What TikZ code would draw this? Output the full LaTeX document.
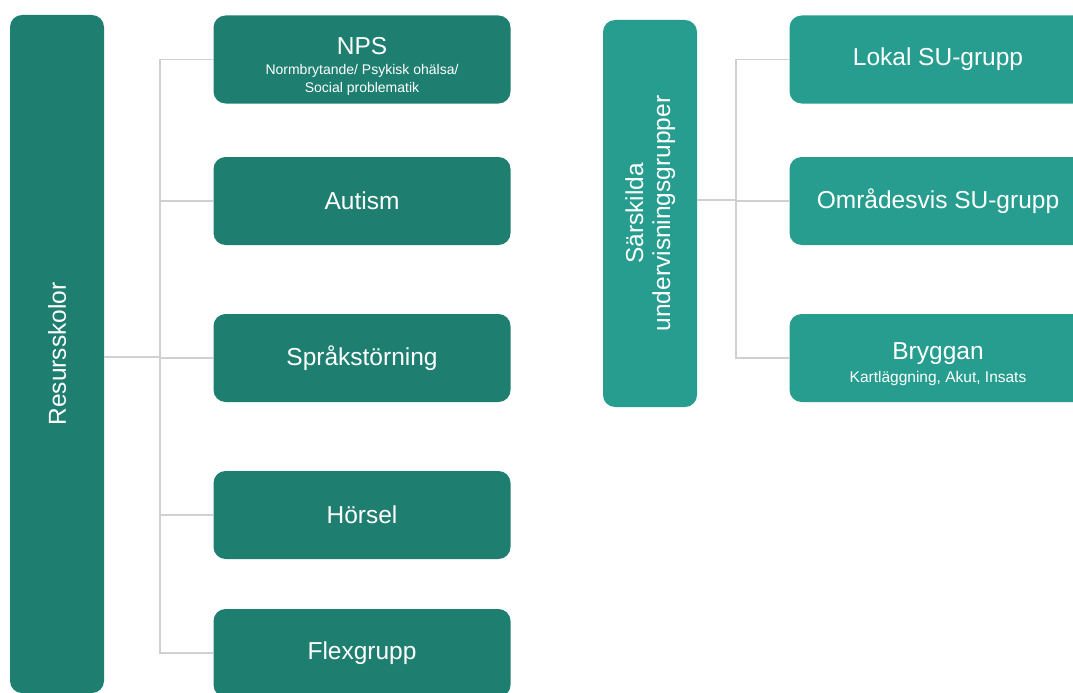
\documentclass[tikz,border=0pt]{standalone}
\usepackage{fontspec}
\setmainfont{Liberation Sans}
\usetikzlibrary{positioning}

\definecolor{darkteal}{RGB}{30,126,112}
\definecolor{lightteal}{RGB}{38,157,142}
\definecolor{linegray}{RGB}{208,208,208}
\newcommand{\subfont}{\fontsize{14}{17}\selectfont}
\newcommand{\brfont}{\fontsize{15.5}{18}\selectfont}
\newcommand{\topstrut}{\rule{0pt}{30pt}}

\tikzset{
  box/.style={rectangle, rounded corners=12pt, text=white, align=center,
    minimum width=297pt, minimum height=88pt, inner sep=0pt,
    font=\fontsize{24.5}{27}\selectfont},
  tallbox/.style={rectangle, rounded corners=12pt, text=white, align=center,
    minimum width=94pt, inner sep=0pt, font=\fontsize{24.5}{33}\selectfont},
  conn/.style={draw=linegray, line width=1.5pt}
}

\begin{document}
\begin{tikzpicture}[x=1pt, y=-1pt]

  \clip (0,0) rectangle (1073,693);
  \fill[white] (0,0) rectangle (1073,693);

  % Resursskolor
  \node[tallbox, fill=darkteal, minimum height=678pt] (res) at (57,354)
    {\rotatebox{90}{Resursskolor}};
  \node[box, fill=darkteal] (nps) at (362,59.5)
    {\topstrut NPS\\[-7pt]\subfont Normbrytande/ Psykisk ohälsa/\\[-9pt]\subfont Social problematik};
  \node[box, fill=darkteal] (aut) at (362,201) {Autism};
  \node[box, fill=darkteal] (spr) at (362,358) {Språkstörning};
  \node[box, fill=darkteal] (hor) at (362,515) {Hörsel};
  \node[box, fill=darkteal] (flex) at (362,653) {Flexgrupp};

  % Särskilda undervisningsgrupper
  \node[tallbox, fill=lightteal, minimum height=387pt] (sug) at (650,213.5)
    {\rotatebox{90}{\begin{tabular}{@{}c@{}}Särskilda\\[-6pt]undervisningsgrupper\end{tabular}}};
  \node[box, fill=lightteal] (lok) at (938,59.5) {Lokal SU-grupp};
  \node[box, fill=lightteal] (omr) at (938,201) {Områdesvis SU-grupp};
  \node[box, fill=lightteal] (bry) at (938,358)
    {\topstrut Bryggan\\[-4pt]\brfont Kartläggning, Akut, Insats};

  % Connectors
  \coordinate (jres) at (160,357);
  \coordinate (jsug) at (736,200);
  \draw[conn] (jres -| res.east) -- (jres);
  \foreach \n in {nps,aut,spr,hor,flex}
    \draw[conn] (\n.west) -| (jres);
  \draw[conn] (jsug -| sug.east) -- (jsug);
  \foreach \n in {lok,omr,bry}
    \draw[conn] (\n.west) -| (jsug);

\end{tikzpicture}
\end{document}
